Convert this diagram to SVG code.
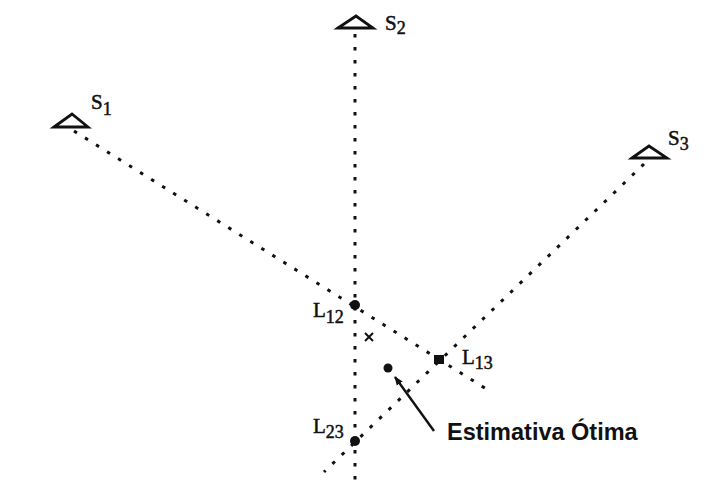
<svg xmlns="http://www.w3.org/2000/svg" width="720" height="503" viewBox="0 0 720 503">
  <defs>
    <style>
      .dot { stroke: #111; stroke-width: 3; stroke-dasharray: 3.5 9.5; fill: none; }
      .tri { fill: #fff; stroke: #111; stroke-width: 2.8; stroke-linejoin: miter; }
      .lbl { font-family: "Liberation Serif", "Times New Roman", serif; font-size: 21px; fill: #111; stroke: #111; stroke-width: 0.5; }
      .sub { font-size: 18px; }
      .pt { fill: #111; }
      .ann { font-family: "Liberation Sans", Arial, sans-serif; font-weight: bold; font-size: 23.5px; fill: #111; }
    </style>
    <marker id="arr" viewBox="0 0 10 10" refX="9" refY="5" markerWidth="9" markerHeight="9" markerUnits="userSpaceOnUse" orient="auto">
      <path d="M0,1 L10,5 L0,9 Z" fill="#111"/>
    </marker>
  </defs>
  <rect width="720" height="503" fill="#fff"/>

  <g id="connectors">
    <line class="dot" x1="355" y1="34" x2="355" y2="484"/>
    <line class="dot" x1="74" y1="131" x2="488" y2="390"/>
    <line class="dot" x1="644" y1="164" x2="324" y2="472"/>
    <line x1="434" y1="431" x2="395" y2="377" stroke="#111" stroke-width="2.4" marker-end="url(#arr)"/>
  </g>

  <g id="S1">
    <path class="tri" d="M54,127 L72,114 L88,127 Z"/>
    <text class="lbl" x="91" y="109">S<tspan class="sub" dy="6">1</tspan></text>
  </g>
  <g id="S2">
    <path class="tri" d="M338,28 L356,16 L373,28 Z"/>
    <text class="lbl" x="385" y="30">S<tspan class="sub" dy="4">2</tspan></text>
  </g>
  <g id="S3">
    <path class="tri" d="M632,158 L649,146 L667,158 Z"/>
    <text class="lbl" x="668" y="145">S<tspan class="sub" dy="5">3</tspan></text>
  </g>

  <g id="L12">
    <circle class="pt" cx="355" cy="305" r="5"/>
    <text class="lbl" x="313" y="317">L<tspan class="sub" dy="6">12</tspan></text>
  </g>
  <g id="L13">
    <rect class="pt" x="434" y="355" width="10" height="9"/>
    <text class="lbl" x="462" y="364">L<tspan class="sub" dy="5">13</tspan></text>
  </g>
  <g id="L23">
    <circle class="pt" cx="355" cy="441" r="5"/>
    <text class="lbl" x="313" y="433">L<tspan class="sub" dy="5">23</tspan></text>
  </g>

  <g id="cross">
    <path d="M365,333 L373,341 M373,333 L365,341" stroke="#111" stroke-width="2"/>
  </g>
  <g id="optimal">
    <circle class="pt" cx="388" cy="368" r="4.5"/>
    <text class="ann" x="447" y="440">Estimativa Ótima</text>
  </g>
</svg>
